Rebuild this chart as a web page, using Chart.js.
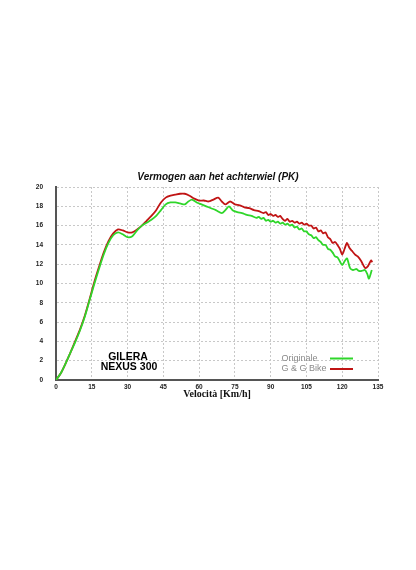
<!DOCTYPE html>
<html>
<head>
<meta charset="utf-8">
<script src="https://cdn.jsdelivr.net/npm/chart.js@4.4.1/dist/chart.umd.min.js"></script>
<style>
  html, body { margin: 0; padding: 0; background: #ffffff; }
  canvas { display: block; }
</style>
</head>
<body>
<canvas id="c" width="416" height="570"></canvas>
<script>
const chartTitle = "Vermogen aan het achterwiel (PK)";
const xAxisTitle = "Velocità [Km/h]";
const bikeLines = ["GILERA", "NEXUS 300"];
const seriesNames = ["Originale", "G & G Bike"];
const xTicks = [0, 15, 30, 45, 60, 75, 90, 105, 120, 135];
const yTicks = [0, 2, 4, 6, 8, 10, 12, 14, 16, 18, 20];

// Originale (green)
const speedOrig = [0, 2, 4, 6, 8, 10, 12, 14, 16, 18, 20, 22, 24, 26, 28, 30, 32, 34, 36, 38, 40, 42, 44, 46, 48, 50, 52, 54, 55.5, 57, 59, 61, 63, 65, 67, 69.5, 71, 72.5, 74, 76, 78, 80, 82, 84, 85, 86, 87, 88, 89, 90, 91, 92, 93, 94, 95, 96, 97, 98, 99, 100, 101, 102, 103, 104, 105, 106, 107, 108, 109, 110, 111, 112, 113, 114, 115, 116, 117, 118, 119, 120, 121, 122, 123.3, 124.5, 126, 127, 128.2, 129.5, 130.5, 131.2, 132.4];
const powerOrig = [0, 0.7, 1.7, 2.8, 3.9, 5.1, 6.5, 8.2, 9.9, 11.5, 13.0, 14.2, 15.0, 15.3, 15.1, 14.8, 14.9, 15.5, 16.0, 16.3, 16.6, 17.0, 17.6, 18.2, 18.4, 18.4, 18.3, 18.2, 18.5, 18.7, 18.4, 18.2, 18.0, 17.8, 17.6, 17.3, 17.6, 18.0, 17.6, 17.4, 17.3, 17.1, 17.0, 16.8, 16.9, 16.7, 16.8, 16.5, 16.6, 16.4, 16.5, 16.3, 16.4, 16.2, 16.3, 16.1, 16.2, 16.0, 16.1, 15.8, 15.9, 15.6, 15.7, 15.4, 15.4, 15.1, 15.0, 14.7, 14.8, 14.5, 14.3, 14.0, 14.0, 13.6, 13.5, 13.2, 12.8, 12.7, 12.3, 11.9, 12.3, 12.6, 11.6, 11.4, 11.5, 11.3, 11.3, 11.4, 11.0, 10.5, 11.4];

// G & G Bike (red)
const speedGG = [0, 2, 4, 6, 8, 10, 12, 14, 16, 18, 20, 22, 24, 26, 28, 30, 32, 34, 36, 38, 40, 42, 44, 46, 48, 50, 52, 54, 56, 58, 60, 62, 64, 66, 68, 69.5, 71, 73, 75, 77, 79, 81, 83, 85, 87, 88, 89, 90, 91, 92, 93, 94, 95, 96, 97, 98, 99, 100, 101, 102, 103, 104, 105, 106, 107, 108, 109, 110, 111, 112, 113, 114, 115, 116, 117, 118, 119, 120, 121, 122, 123, 124, 125.4, 126.5, 128, 129.6, 130.8, 132.1, 132.6];
const powerGG = [0, 0.7, 1.7, 2.8, 4.0, 5.2, 6.6, 8.3, 10.1, 11.7, 13.2, 14.4, 15.2, 15.6, 15.5, 15.3, 15.3, 15.6, 16.0, 16.5, 17.0, 17.6, 18.4, 18.9, 19.1, 19.2, 19.3, 19.3, 19.1, 18.8, 18.6, 18.6, 18.5, 18.7, 18.9, 18.5, 18.2, 18.5, 18.2, 18.1, 17.9, 17.8, 17.6, 17.5, 17.3, 17.4, 17.1, 17.2, 17.0, 17.1, 16.9, 17.0, 16.7, 16.5, 16.7, 16.4, 16.5, 16.3, 16.4, 16.2, 16.3, 16.1, 16.2, 16.0, 16.0, 15.7, 15.8, 15.4, 15.5, 15.2, 15.3, 14.8, 14.6, 14.2, 14.3, 14.0, 13.6, 13.0, 13.6, 14.2, 13.7, 13.4, 13.0, 12.8, 12.3, 11.6, 11.8, 12.4, 12.2];

const colorOrig = "#2fd62a";
const colorGG = "#c01414";

function pts(xs, ys) { return xs.map((x, i) => ({ x: x, y: ys[i] })); }

const decor = {
  id: "decor",
  beforeDraw(chart) {
    const ctx = chart.ctx;
    ctx.save();
    ctx.fillStyle = "#ffffff";
    ctx.fillRect(0, 0, chart.width, chart.height);
    ctx.restore();
  },
  afterDraw(chart) {
    const ctx = chart.ctx;
    const a = chart.chartArea;
    ctx.save();
    // title
    ctx.fillStyle = "#111111";
    ctx.font = "italic bold 10px 'Liberation Sans', Arial, sans-serif";
    ctx.textAlign = "center";
    ctx.textBaseline = "middle";
    ctx.fillText(chartTitle, (a.left + a.right) / 2 + 1, a.top - 10);
    // bike name
    ctx.font = "bold 10.5px 'Liberation Sans', Arial, sans-serif";
    ctx.fillStyle = "#000000";
    ctx.fillText(bikeLines[0], 128, 357.5);
    ctx.fillText(bikeLines[1], 129, 367.5);
    // legend
    ctx.font = "9px 'Liberation Sans', Arial, sans-serif";
    ctx.textAlign = "left";
    const cols = [colorOrig, colorGG];
    const ys = [358.5, 369];
    for (let i = 0; i < 2; i++) {
      ctx.fillStyle = "#8a8a8a";
      ctx.fillText(seriesNames[i], 281.5, ys[i]);
      ctx.strokeStyle = cols[i];
      ctx.lineWidth = 2;
      ctx.beginPath();
      ctx.moveTo(330, ys[i]);
      ctx.lineTo(353, ys[i]);
      ctx.stroke();
    }
    ctx.restore();
  }
};

new Chart(document.getElementById("c"), {
  type: "line",
  data: {
    datasets: [
      { label: seriesNames[0], data: pts(speedOrig, powerOrig), borderColor: colorOrig, borderWidth: 1.8, pointRadius: 0, tension: 0.25, fill: false },
      { label: seriesNames[1], data: pts(speedGG, powerGG), borderColor: colorGG, borderWidth: 1.8, pointRadius: 0, tension: 0.25, fill: false }
    ]
  },
  options: {
    responsive: false,
    devicePixelRatio: 1,
    animation: false,
    layout: { padding: { left: 0, right: 38, top: 187, bottom: 170 } },
    plugins: { legend: { display: false }, tooltip: { enabled: false }, title: { display: false } },
    scales: {
      x: {
        type: "linear", min: 0, max: 135,
        afterBuildTicks: (s) => { s.ticks = xTicks.map(v => ({ value: v })); },
        afterFit: (s) => { s.height = 20; },
        grid: { color: "#c8c8c8", lineWidth: 1, drawTicks: false, borderDash: [2, 2] },
        border: { display: true, color: "#555555", width: 2, dash: [2, 2] },
        ticks: { padding: 3, color: "#222222", font: { family: "'Liberation Sans', Arial, sans-serif", size: 6.5, weight: "bold" }, maxRotation: 0, autoSkip: false },
        title: { display: true, text: xAxisTitle, color: "#111111", padding: 0, font: { family: "'Liberation Serif', 'Times New Roman', serif", size: 10, weight: "bold", lineHeight: 1.2 } }
      },
      y: {
        type: "linear", min: 0, max: 20,
        afterBuildTicks: (s) => { s.ticks = yTicks.map(v => ({ value: v })); },
        afterFit: (s) => { s.width = 56; },
        grid: { color: "#c8c8c8", lineWidth: 1, drawTicks: false, borderDash: [2, 2] },
        border: { display: true, color: "#555555", width: 2, dash: [2, 2] },
        ticks: { padding: 13, color: "#222222", font: { family: "'Liberation Sans', Arial, sans-serif", size: 6.5, weight: "bold" } }
      }
    }
  },
  plugins: [decor]
});
</script>
</body>
</html>
